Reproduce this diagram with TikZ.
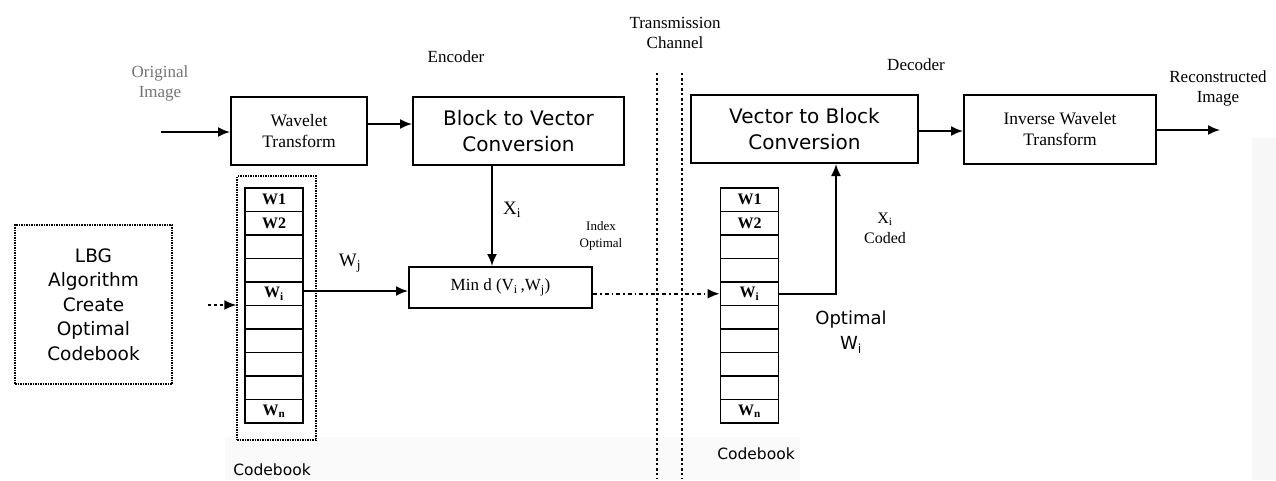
\documentclass[tikz,border=0pt]{standalone}
\usepackage{fontspec}
\setmainfont{Liberation Serif}
\newfontfamily\dv{DejaVu Sans}
\usetikzlibrary{arrows.meta,positioning}
\begin{document}
\begin{tikzpicture}[x=1pt,y=-1pt,
  box/.style={draw, line width=2pt, inner sep=0pt, align=center},
  cell/.style={draw, line width=1.8pt, minimum width=58pt, minimum height=23.5pt, inner sep=0pt, font=\bfseries\fontsize{16}{16}\selectfont},
  arr/.style={-{Latex[length=12pt,width=10pt]}, line width=1.8pt},
  dotframe/.style={draw, densely dotted, line width=1.5pt, inner sep=0pt},
  lbl/.style={align=center, inner sep=0pt, font=\fontsize{17}{20}\selectfont},
  chan/.style={line width=1.2pt, dash pattern=on 2pt off 2.5pt on 3pt off 2.5pt}]
\useasboundingbox (0,0) rectangle (1276,480);
% faint scan artefacts
\fill[black!2] (225,437) rectangle (800,480);
\fill[black!3] (1252,138) rectangle (1276,480);

% main boxes
\node[box, minimum width=136pt, minimum height=68pt, font=\fontsize{17.5}{21}\selectfont] (wt) at (299,131) {Wavelet\\Transform};
\node[box, minimum width=211pt, minimum height=68pt, font=\dv\fontsize{20}{26}\selectfont] (bv) at (518.5,131) {Block to Vector\\Conversion};
\node[box, minimum width=227pt, minimum height=68pt, font=\dv\fontsize{20}{26}\selectfont] (vb) at (804.5,129) {Vector to Block\\Conversion};
\node[box, minimum width=192pt, minimum height=69pt, font=\fontsize{17.5}{21}\selectfont] (iwt) at (1060,129.5) {Inverse Wavelet\\Transform};
\node[box, minimum width=183pt, minimum height=41pt, font=\fontsize{17}{20}\selectfont] (mind) at (500.5,287.5) {Min d (V\textsubscript{i}\,,W\textsubscript{j})};

% LBG box
\node[dotframe, minimum width=157pt, minimum height=159pt, align=center, font=\dv\fontsize{18.5}{24.5}\selectfont] (lbg) at (93.5,304.5) {LBG\\Algorithm\\Create\\Optimal\\Codebook};

% left codebook frame
\node[dotframe, minimum width=79pt, minimum height=264pt] (lcb) at (276.5,308) {};

% codebook cells
\foreach \k/\t in {0/W1,1/W2,2/,3/,4/{W\textsubscript{i}},5/,6/,7/,8/,9/{W\textsubscript{n}}}{
  \node[cell] (lc\k) at (274,199.75+23.5*\k) {\t};
  \node[cell] (rc\k) at (749.5,199.75+23.5*\k) {\t};
}

% channel lines
\draw[chan] (657,73) -- (657,478);
\draw[chan] (682,73) -- (682,478);

% coordinates
\coordinate (in) at (161,132);
\coordinate (out) at (1220,130);
\coordinate (y124) at (0,124);
\coordinate (y131) at (0,131);
\coordinate (x492) at (492,0);
\coordinate (y291) at (0,291);
\coordinate (x836) at (836,0);
\coordinate (dashin) at (208,305);

% connectors
\draw[arr] (in) -- (wt.west |- in);
\draw[arr] (wt.east |- y124) -- (bv.west |- y124);
\draw[arr] (bv.south -| x492) -- (mind.north -| x492);
\draw[arr] (vb.east |- y131) -- (iwt.west |- y131);
\draw[arr] (iwt.east |- out) -- (out);
\draw[arr] (lc4.east |- y291) -- (mind.west |- y291);
\draw[arr, dash pattern=on 4pt off 3pt on 1.5pt off 3pt, line width=2pt] (mind.east |- rc4.west) -- (rc4.west);
\draw[arr] (rc4.east) -- (rc4.east -| x836) -- (vb.south -| x836);
\draw[arr, dashed, line width=1.5pt] (dashin) -- (lcb.west |- dashin);

% labels
\node[lbl] (enc) at (456,57) {Encoder};
\node[lbl] (dec) at (916,65) {Decoder};
\node[lbl] (tc) at (675,33) {Transmission\\Channel};
\node[lbl, text=black!55] (oi) at (160,83) {Original\\Image};
\node[lbl] (ri) at (1218,88) {Reconstructed\\Image};
\node[lbl, font=\fontsize{13}{17}\selectfont] (io) at (601,236) {Index\\Optimal};
\node[lbl, font=\fontsize{19}{20}\selectfont] (xi) at (512,210) {X\textsubscript{i}};
\node[lbl, font=\fontsize{19}{20}\selectfont] (wj) at (350,263) {W\textsubscript{j}};
\node[lbl, font=\fontsize{16}{20}\selectfont] (xc) at (885,228) {X\textsubscript{i}\\Coded};
\node[lbl, font=\dv\fontsize{18}{25}\selectfont] (ow) at (851,332) {Optimal\\W\textsubscript{i}};
\node[lbl, font=\dv\fontsize{15.5}{18}\selectfont] (cbl) at (272,470) {Codebook};
\node[lbl, font=\dv\fontsize{15.5}{18}\selectfont] (cbr) at (756,454) {Codebook};
\end{tikzpicture}
\end{document}
